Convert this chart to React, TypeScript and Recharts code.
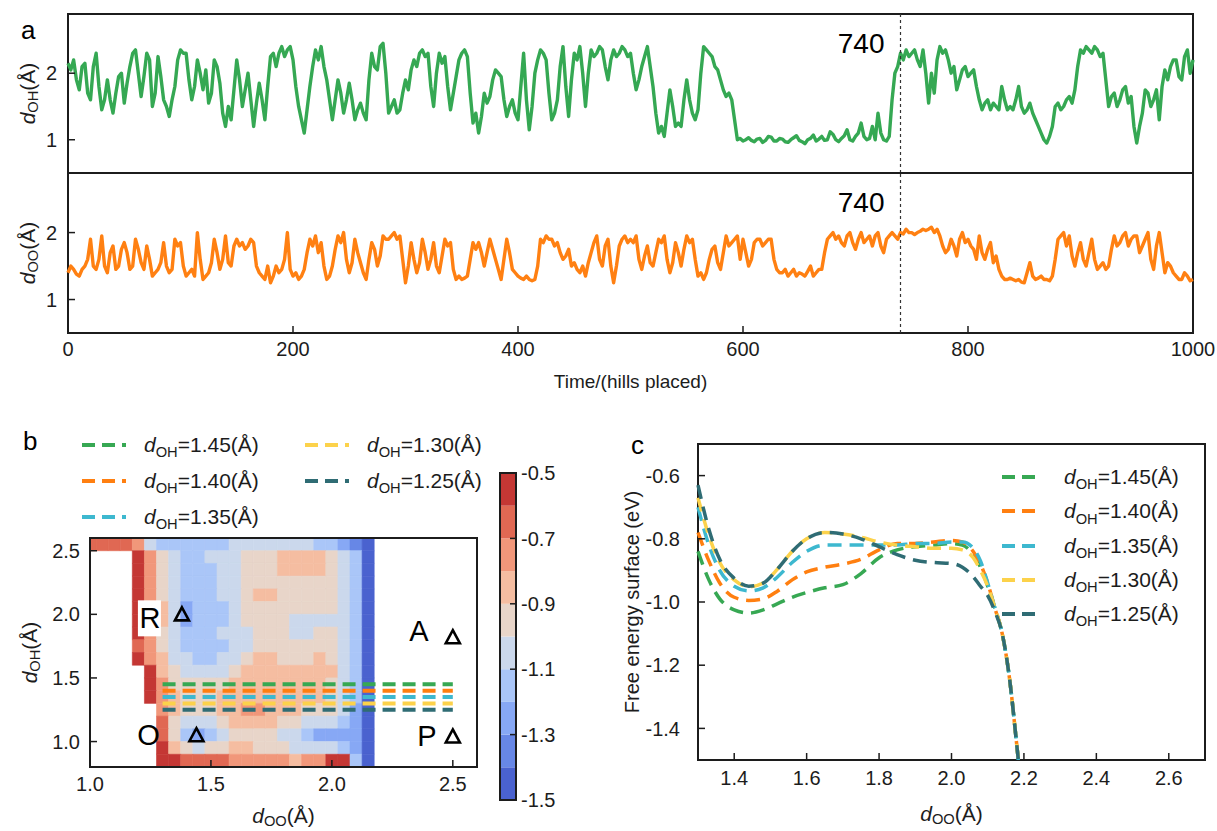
import React from "react";
import {
  ComposedChart,
  LineChart,
  Line,
  XAxis,
  YAxis,
  ReferenceArea,
  ReferenceLine,
  Scatter,
  Legend,
} from "recharts";

const FONT = "'Liberation Sans', Arial, Helvetica, sans-serif";
const INK = "#1c1c1c";

// ---------- panel a: d_OH / d_OO along the run (one value every 2.5 hills) ----------
const hillStep = 2.5;
const timeTicks = [0, 200, 400, 600, 800, 1000];
const eventHill = 740;

const dOHTrace = [
  2.15, 2.05, 2.2, 1.9, 1.75, 2.1, 2.15, 1.7, 1.6, 2.1, 2.3, 1.8, 1.45, 1.6, 1.9, 1.6, 1.4, 1.7, 1.95, 2.0,
  1.55, 1.85, 2.1, 2.3, 2.35, 2.0, 1.65, 1.95, 2.3, 2.2, 1.5, 1.7, 2.25, 1.95, 1.6, 1.5, 1.35, 1.6, 1.8, 2.2,
  2.35, 2.3, 2.3, 1.9, 1.6, 1.8, 2.2, 2.0, 1.75, 2.05, 1.55, 1.7, 2.2, 2.1, 1.85, 1.4, 1.2, 1.5, 1.3, 1.75,
  2.2, 1.9, 1.5, 1.75, 2.0, 1.6, 1.2, 1.55, 1.85, 1.6, 1.3, 1.8, 2.25, 2.3, 2.1, 2.3, 2.4, 2.25, 2.35, 2.4,
  2.2, 1.8, 1.5, 1.3, 1.1, 1.45, 1.8, 2.1, 2.35, 2.2, 2.4, 2.1, 1.9, 1.6, 1.3, 1.6, 1.9, 1.7, 1.4, 1.6,
  1.85, 1.6, 1.3, 1.45, 1.55, 1.4, 1.3, 1.9, 2.3, 2.1, 2.05, 2.4, 2.45, 2.0, 1.4, 1.5, 1.6, 1.4, 1.45, 1.7,
  1.9, 1.75, 2.05, 2.2, 2.1, 2.3, 2.35, 2.25, 2.3, 1.8, 1.5, 2.0, 2.3, 2.15, 2.25, 1.8, 1.45, 1.7, 1.95, 2.2,
  2.3, 2.35, 2.25, 1.7, 1.25, 1.4, 1.1, 1.35, 1.7, 1.55, 1.65, 1.9, 2.05, 2.0, 1.95, 1.6, 1.35, 1.5, 1.6, 1.4,
  1.3, 1.8, 2.3, 1.6, 1.15, 1.5, 2.0, 2.2, 2.35, 2.3, 2.2, 1.7, 1.3, 1.4, 1.6, 2.1, 2.4, 1.8, 1.35, 1.9,
  2.3, 2.2, 2.4, 2.0, 1.5, 2.0, 2.35, 2.25, 2.3, 2.4, 2.35, 2.1, 1.9, 2.2, 2.35, 2.25, 2.3, 2.4, 2.35, 2.25,
  2.3, 2.0, 1.75, 1.9, 2.1, 2.25, 2.4, 2.1, 1.8, 1.4, 1.1, 1.2, 1.05, 1.4, 1.75, 1.5, 1.2, 1.25, 1.2, 1.6,
  1.9, 1.6, 1.4, 1.3, 1.45, 2.0, 2.4, 2.35, 2.3, 2.25, 2.1, 2.05, 1.9, 1.75, 1.65, 1.7, 1.6, 1.3, 1.0, 1.02,
  0.98, 1.0, 1.03, 0.99, 0.97, 1.01, 1.02, 0.96, 0.99, 1.05, 1.04, 0.98, 0.98, 1.02, 1.01, 0.97, 0.96, 1.0, 1.03, 1.06,
  0.99, 0.97, 0.94, 1.0, 1.02, 1.07, 0.98, 1.01, 1.05, 0.99, 1.0, 1.12, 1.08, 1.0, 0.97, 1.02, 1.06, 1.15, 1.0, 0.98,
  1.05, 1.1, 1.25, 1.05, 1.0, 1.02, 1.2, 1.0, 1.4, 1.1, 1.0, 0.98, 1.05, 1.6, 2.0, 2.1, 2.3, 2.2, 2.35, 2.25,
  2.3, 2.35, 2.2, 2.1, 2.35, 2.0, 1.55, 2.0, 1.7, 2.2, 2.4, 2.3, 2.35, 2.2, 2.0, 2.1, 1.75, 1.9, 2.05, 2.1,
  1.95, 2.0, 2.05, 1.8, 1.6, 1.45, 1.55, 1.6, 1.45, 1.55, 1.5, 1.45, 1.8, 1.6, 1.45, 1.5, 1.45, 1.6, 1.8, 1.5,
  1.4, 1.45, 1.55, 1.4, 1.3, 1.2, 1.1, 1.0, 0.95, 1.05, 1.2, 1.5, 1.55, 1.45, 1.5, 1.6, 1.65, 1.55, 1.75, 2.1,
  2.35, 2.3, 2.4, 2.35, 2.3, 2.4, 2.35, 2.25, 2.3, 1.9, 1.5, 1.65, 1.7, 1.5, 1.6, 1.75, 1.8, 1.55, 1.65, 1.2,
  0.95, 1.2, 1.4, 1.75, 1.7, 1.5, 1.6, 1.75, 1.3, 1.8, 2.05, 1.9, 2.1, 2.2, 2.2, 1.95, 1.9, 2.25, 2.35, 2.0,
  2.2,
];

const dOOTrace = [
  1.4, 1.5, 1.45, 1.38, 1.35, 1.45, 1.5, 1.6, 1.9, 1.5, 1.45, 1.6, 1.95, 1.5, 1.4, 1.7, 1.8, 1.45, 1.5, 1.75,
  1.85, 1.7, 1.45, 1.5, 1.9, 1.75, 1.55, 1.45, 1.8, 1.6, 1.35, 1.4, 1.45, 1.55, 1.85, 1.5, 1.4, 1.45, 1.9, 1.8,
  1.85, 1.5, 1.35, 1.4, 1.45, 1.35, 2.0, 1.6, 1.3, 1.35, 1.4, 1.55, 1.9, 1.7, 1.45, 1.6, 1.95, 1.55, 1.5, 1.8,
  1.9, 1.8, 1.85, 1.75, 1.8, 1.9, 1.85, 1.5, 1.4, 1.35, 1.3, 1.5, 1.25, 1.35, 1.5, 1.4, 1.45, 1.6, 2.0, 1.45,
  1.35, 1.4, 1.3, 1.35, 1.45, 1.7, 1.9, 1.8, 1.95, 1.7, 1.85, 1.5, 1.3, 1.35, 1.5, 1.75, 1.95, 1.85, 2.0, 1.6,
  1.4, 1.55, 1.9, 1.7, 1.55, 1.4, 1.3, 1.6, 1.85, 1.75, 1.5, 1.65, 1.95, 1.9, 1.9, 1.95, 2.0, 1.9, 1.95, 1.6,
  1.25, 1.5, 1.85, 1.6, 1.4, 1.55, 1.9, 1.7, 1.45, 1.6, 1.85, 1.5, 1.4, 1.65, 1.9, 1.8, 1.85, 1.45, 1.3, 1.35,
  1.3, 1.32, 1.35, 1.6, 1.85, 1.75, 1.85, 1.7, 1.5, 1.7, 1.9, 1.75, 1.6, 1.45, 1.3, 1.6, 1.9, 1.7, 1.45, 1.4,
  1.35, 1.32, 1.3, 1.35, 1.3, 1.28, 1.3, 1.5, 1.9, 1.85, 1.95, 1.9, 1.9, 1.8, 1.85, 1.7, 1.6, 1.65, 1.75, 1.5,
  1.55, 1.45, 1.4, 1.5, 1.35, 1.55, 1.7, 1.85, 1.95, 1.6, 1.5, 1.8, 1.9, 1.5, 1.25, 1.5, 1.8, 1.9, 1.95, 1.85,
  1.9, 1.85, 1.95, 1.6, 1.45, 1.65, 1.8, 1.55, 1.5, 1.7, 1.9, 1.85, 1.95, 1.6, 1.4, 1.55, 1.85, 1.7, 1.5, 1.75,
  1.95, 1.85, 1.9, 1.6, 1.35, 1.4, 1.3, 1.4, 1.6, 1.75, 1.8, 1.55, 1.45, 1.7, 1.95, 1.8, 1.85, 1.9, 1.95, 1.6,
  1.9, 1.7, 1.5, 1.6, 1.85, 1.9, 1.9, 1.8, 1.85, 1.9, 1.9, 1.6, 1.45, 1.4, 1.4, 1.45, 1.35, 1.4, 1.45, 1.35,
  1.4, 1.38, 1.35, 1.42, 1.5, 1.35, 1.4, 1.45, 1.45, 1.7, 1.9, 1.95, 2.0, 1.9, 1.95, 1.85, 1.8, 1.95, 2.0, 1.85,
  1.75, 1.9, 2.0, 1.85, 1.9, 1.95, 1.8, 1.95, 2.0, 1.8, 1.7, 1.9, 1.95, 2.0, 1.95, 1.9, 2.0, 1.98, 2.05, 2.0,
  2.0, 1.97, 2.0, 2.02, 2.05, 2.03, 2.05, 2.08, 2.0, 2.05, 1.95, 1.8, 1.7, 1.75, 1.9, 1.8, 1.65, 1.9, 2.0, 1.85,
  1.9, 1.8, 1.75, 1.6, 1.95, 1.7, 1.6, 1.75, 1.85, 1.55, 1.65, 1.45, 1.35, 1.3, 1.3, 1.32, 1.3, 1.28, 1.3, 1.26,
  1.25, 1.4, 1.55, 1.35, 1.3, 1.32, 1.35, 1.3, 1.3, 1.28, 1.35, 1.6, 1.9, 1.95, 2.0, 1.8, 1.95, 1.65, 1.5, 1.7,
  1.85, 1.6, 1.5, 1.7, 1.9, 1.6, 1.45, 1.5, 1.55, 1.45, 1.5, 1.75, 1.95, 1.8, 1.85, 1.95, 2.0, 1.8, 1.9, 1.95,
  1.95, 1.7, 1.8, 1.9, 2.0, 1.6, 1.45, 1.8, 2.0, 1.7, 1.4, 1.55, 1.5, 1.4, 1.35, 1.3, 1.3, 1.4, 1.35, 1.28,
  1.3,
];

const trajectory = dOHTrace.map((oh, i) => ({ hill: i * hillStep, oh, oo: dOOTrace[i] }));

// ---------- panel b: free energy surface (eV), coarse grid ----------
const fesCols = [1.0, 1.05, 1.1, 1.15, 1.2, 1.25, 1.3, 1.35, 1.4, 1.45, 1.5, 1.55, 1.6, 1.65, 1.7, 1.75, 1.8, 1.85, 1.9, 1.95, 2.0, 2.05, 2.1, 2.15, 2.2];
const fesRowsY = [2.55, 2.45, 2.35, 2.25, 2.15, 2.05, 1.95, 1.85, 1.75, 1.65, 1.55, 1.45, 1.35, 1.25, 1.15, 1.05, 0.95, 0.85];
const N = null;
const fesGrid: (number | null)[][] = [
  [-0.62, -0.62, -0.62, -0.65, -0.78, -1.02, -1.12, -1.15, -1.16, -1.16, -1.15, -1.12, -1.1, -1.1, -1.1, -1.1, -1.1, -1.1, -1.1, -1.12, -1.15, -1.22, -1.35, -1.46, N],
  [N, N, N, N, -0.55, -0.8, -0.98, -1.05, -1.12, -1.12, -1.1, -1.05, -1.02, -0.98, -0.95, -0.92, -0.86, -0.85, -0.86, -0.9, -0.97, -1.05, -1.2, -1.42, N],
  [N, N, N, N, -0.6, -0.78, -0.97, -1.05, -1.13, -1.13, -1.12, -1.07, -1.03, -0.97, -0.95, -0.93, -0.87, -0.85, -0.86, -0.88, -0.96, -1.05, -1.2, -1.42, N],
  [N, N, N, N, -0.6, -0.75, -0.95, -1.05, -1.13, -1.13, -1.13, -1.1, -1.04, -0.97, -0.92, -0.93, -0.94, -0.95, -0.95, -0.96, -0.98, -1.05, -1.2, -1.42, N],
  [N, N, N, N, -0.58, -0.72, -0.92, -1.05, -1.12, -1.14, -1.12, -1.08, -1.02, -0.95, -0.87, -0.88, -0.95, -0.96, -0.96, -0.96, -0.98, -1.05, -1.2, -1.42, N],
  [N, N, N, N, -0.55, -0.7, -0.9, -1.06, -1.25, -1.16, -1.13, -1.12, -1.05, -0.98, -0.95, -0.96, -0.97, -0.97, -0.97, -0.98, -1.0, -1.05, -1.2, -1.42, N],
  [N, N, N, N, -0.55, -0.7, -0.9, -1.08, -1.24, -1.16, -1.13, -1.12, -1.08, -1.0, -0.97, -0.96, -1.0, -1.03, -1.04, -1.04, -1.03, -1.05, -1.2, -1.42, N],
  [N, N, N, N, -0.58, -0.72, -0.92, -1.06, -1.12, -1.13, -1.12, -1.05, -1.1, -1.02, -0.97, -0.96, -0.99, -1.02, -1.01, -0.98, -0.99, -1.05, -1.2, -1.42, N],
  [N, N, N, N, -0.62, -0.75, -0.93, -1.05, -1.12, -1.13, -1.13, -1.12, -1.08, -1.02, -0.97, -0.95, -0.96, -0.96, -0.95, -0.96, -0.98, -1.04, -1.2, -1.42, N],
  [N, N, N, N, -0.55, -0.72, -0.9, -1.04, -1.1, -1.12, -1.11, -1.08, -1.04, -0.98, -0.9, -0.88, -0.93, -0.95, -0.92, -0.9, -0.95, -1.03, -1.2, -1.42, N],
  [N, N, N, N, N, -0.6, -0.82, -1.0, -1.05, -1.08, -1.06, -1.02, -0.97, -0.9, -0.85, -0.84, -0.86, -0.88, -0.85, -0.85, -0.9, -1.02, -1.2, -1.42, N],
  [N, N, N, N, N, -0.58, -0.78, -0.95, -0.99, -1.0, -0.98, -0.95, -0.9, -0.86, -0.85, -0.85, -0.86, -0.86, -0.86, -0.87, -0.92, -1.03, -1.2, -1.42, N],
  [N, N, N, N, N, -0.56, -0.75, -0.9, -0.95, -0.96, -0.94, -0.9, -0.86, -0.84, -0.84, -0.85, -0.86, -0.86, -0.87, -0.9, -0.95, -1.05, -1.2, -1.42, N],
  [N, N, N, N, N, N, -0.72, -0.88, -0.93, -0.94, -0.92, -0.88, -0.84, -0.78, -0.78, -0.84, -0.87, -0.9, -0.93, -0.96, -1.0, -1.08, -1.22, -1.42, N],
  [N, N, N, N, N, N, -0.7, -0.93, -1.05, -1.07, -1.03, -0.95, -0.88, -0.85, -0.86, -0.88, -0.92, -0.98, -1.04, -1.08, -1.1, -1.15, -1.25, -1.42, N],
  [N, N, N, N, N, N, -0.68, -0.98, -1.18, -1.25, -1.15, -1.05, -0.98, -0.95, -0.96, -1.0, -1.05, -1.1, -1.17, -1.22, -1.23, -1.25, -1.3, -1.45, N],
  [N, N, N, N, N, N, -0.6, -0.85, -0.98, -1.02, -0.98, -0.93, -0.9, -0.9, -0.92, -0.95, -0.98, -1.02, -1.06, -1.08, -1.1, -1.15, -1.3, -1.45, N],
  [N, N, N, N, N, N, -0.52, -0.6, -0.68, -0.7, -0.7, -0.7, -0.72, -0.75, -0.76, -0.78, -0.8, -0.82, -0.78, -0.72, -0.6, -0.55, -1.2, -1.45, N],
];
const fesColStep = 0.05;
const fesRowStep = 0.1;
const fesTicks = [1.0, 1.5, 2.0, 2.5];

const levelEdges = [-1.5, -1.4, -1.3, -1.2, -1.1, -1.0, -0.9, -0.8, -0.7, -0.6, -0.5];
const levelColors = ["#4a62cf", "#6787e6", "#87a8f5", "#aac6f8", "#cbd8ec", "#e8d5c9", "#f5bda1", "#f1977a", "#e06853", "#c43734"];
const cbTicks = [-1.5, -1.3, -1.1, -0.9, -0.7, -0.5];

const cutLevels = [1.45, 1.4, 1.35, 1.3, 1.25];
const cutColors = ["#37a853", "#ff7f10", "#3db8cf", "#fcd24b", "#2f6c74"];
const cutRange = [1.3, 2.5];

const stateNames = ["R", "O", "A", "P"];
const stateX = [1.38, 1.44, 2.5, 2.5];
const stateY = [2.0, 1.05, 1.82, 1.04];

// ---------- panel c: 1D cuts of the surface ----------
const cutX = [1.3, 1.33, 1.36, 1.4, 1.44, 1.48, 1.52, 1.56, 1.6, 1.65, 1.7, 1.75, 1.8, 1.85, 1.9, 1.95, 2.0, 2.03, 2.06, 2.08, 2.1, 2.12, 2.14, 2.16, 2.18, 2.19];
const cut145 = [-0.84, -0.93, -0.99, -1.025, -1.035, -1.025, -1.005, -0.985, -0.97, -0.955, -0.945, -0.91, -0.86, -0.835, -0.825, -0.82, -0.815, -0.82, -0.85, -0.89, -0.95, -1.02, -1.1, -1.24, -1.45, -1.56];
const cut140 = [-0.78, -0.87, -0.94, -0.985, -0.995, -0.99, -0.965, -0.93, -0.905, -0.89, -0.88, -0.865, -0.835, -0.815, -0.815, -0.81, -0.805, -0.81, -0.84, -0.88, -0.94, -1.02, -1.1, -1.24, -1.45, -1.56];
const cut135 = [-0.7, -0.82, -0.9, -0.95, -0.965, -0.955, -0.92, -0.875, -0.84, -0.82, -0.82, -0.82, -0.82, -0.82, -0.815, -0.815, -0.81, -0.81, -0.83, -0.87, -0.94, -1.02, -1.1, -1.24, -1.45, -1.56];
const cut130 = [-0.67, -0.79, -0.875, -0.93, -0.952, -0.94, -0.895, -0.84, -0.8, -0.78, -0.785, -0.795, -0.81, -0.82, -0.825, -0.83, -0.83, -0.835, -0.86, -0.9, -0.95, -1.02, -1.1, -1.24, -1.45, -1.56];
const cut125 = [-0.63, -0.77, -0.865, -0.925, -0.95, -0.94, -0.895, -0.84, -0.8, -0.78, -0.785, -0.8, -0.825, -0.85, -0.868, -0.875, -0.878, -0.89, -0.92, -0.95, -0.98, -1.03, -1.1, -1.24, -1.45, -1.56];
const cutKeys = ["c145", "c140", "c135", "c130", "c125"];
const cutXTicks = [1.4, 1.6, 1.8, 2.0, 2.2, 2.4, 2.6];
const cutYTicks = [-1.4, -1.2, -1.0, -0.8, -0.6];

const cutTable = cutX.map((x, i) => ({
  x,
  c145: cut145[i],
  c140: cut140[i],
  c135: cut135[i],
  c130: cut130[i],
  c125: cut125[i],
}));

const fesCells: { x: number; y: number; v: number }[] = [];
fesRowsY.forEach((y, r) => {
  fesCols.forEach((x, c) => {
    const v = fesGrid[r][c];
    if (v !== null) fesCells.push({ x, y, v });
  });
});

const colorFor = (v: number) => {
  for (let i = 0; i < levelColors.length; i++) {
    if (v < levelEdges[i + 1]) return levelColors[i];
  }
  return levelColors[levelColors.length - 1];
};

const states = stateNames.map((name, i) => ({ name, x: stateX[i], y: stateY[i] }));
const bands = levelColors.map((color, i) => ({ lo: levelEdges[i], hi: levelEdges[i + 1], color, mid: 0.5, y: (levelEdges[i] + levelEdges[i + 1]) / 2 }));

const fmt1 = (v: number) => v.toFixed(1);
const tickFont = { fontSize: 20, fill: INK, fontFamily: FONT };
const tickLineStyle = { stroke: INK, strokeWidth: 1.5 };
const byLevelDesc = (a: any, b: any) => parseFloat(b.value) - parseFloat(a.value);

// label with italic d and subscript
function SubTitle({ x, y, sub, vertical, size = 21 }: any) {
  return (
    <text
      x={x}
      y={y}
      textAnchor="middle"
      dominantBaseline="central"
      fontFamily={FONT}
      fontSize={size}
      fill={INK}
      transform={vertical ? `rotate(-90, ${x}, ${y})` : undefined}
    >
      <tspan fontStyle="italic">d</tspan>
      <tspan fontSize={size * 0.7} dy={size * 0.3}>{sub}</tspan>
      <tspan dy={-size * 0.3}>(Å)</tspan>
    </text>
  );
}

function LegendRow({ color, level, lineW, gap }: any) {
  return (
    <div style={{ display: "flex", alignItems: "center", height: "100%" }}>
      <svg width={lineW} height={8} style={{ flexShrink: 0 }}>
        <line x1={0} x2={lineW} y1={4} y2={4} stroke={color} strokeWidth={4} strokeDasharray="13 7" />
      </svg>
      <span style={{ marginLeft: gap, fontFamily: FONT, fontSize: 21, color: INK, whiteSpace: "nowrap" }}>
        <i>d</i>
        <span style={{ fontSize: "0.7em", position: "relative", top: "0.35em" }}>OH</span>=
        {level}(Å)
      </span>
    </div>
  );
}

const renderState = (p: any) => {
  const { cx, cy, payload } = p;
  const dx: Record<string, number> = { R: -32, O: -48, A: -34, P: -26 };
  const dy: Record<string, number> = { R: 4, O: 0, A: -6, P: 0 };
  const lx = cx + dx[payload.name];
  const ly = cy + dy[payload.name];
  return (
    <g>
      {payload.name === "R" && <rect x={lx - 12} y={ly - 18} width={23} height={36} fill="#fff" />}
      <text x={lx} y={ly} textAnchor="middle" dominantBaseline="central" fontFamily={FONT} fontSize={29} fill="#000">
        {payload.name}
      </text>
      <path
        d={`M${cx},${cy - 7} L${cx + 7},${cy + 6} L${cx - 7},${cy + 6} Z`}
        fill="none"
        stroke="#000"
        strokeWidth={2.6}
        strokeLinejoin="miter"
      />
    </g>
  );
};

function TraceChart({ dataKey, color, sub, height, marginTop, bottomH, showTime }: any) {
  return (
    <LineChart width={1217} height={height} data={trajectory} margin={{ top: marginTop, right: 23, bottom: 0, left: 0 }}>
      <XAxis
        dataKey="hill"
        type="number"
        domain={[0, 1000]}
        ticks={timeTicks}
        height={bottomH}
        axisLine={false}
        tickSize={-7}
        tickMargin={16}
        tickLine={tickLineStyle}
        tick={showTime ? tickFont : false}
        label={
          showTime
            ? (p: any) => (
                <text
                  x={p.viewBox.x + p.viewBox.width / 2}
                  y={p.viewBox.y + 48}
                  textAnchor="middle"
                  dominantBaseline="central"
                  fontFamily={FONT}
                  fontSize={19}
                  fill={INK}
                >
                  Time/(hills placed)
                </text>
              )
            : undefined
        }
      />
      <XAxis xAxisId="top" orientation="top" dataKey="hill" type="number" domain={[0, 1000]} ticks={timeTicks} height={1} axisLine={false} tickSize={-7} tickLine={tickLineStyle} tick={false} />
      <YAxis
        type="number"
        domain={[0.5, 2.89]}
        ticks={[1, 2]}
        width={68}
        axisLine={false}
        tickSize={-7}
        tickMargin={18}
        tickLine={tickLineStyle}
        tick={tickFont}
        label={(p: any) => <SubTitle x={p.viewBox.x + 27} y={p.viewBox.y + p.viewBox.height / 2} sub={sub} vertical />}
      />
      <YAxis yAxisId="right" orientation="right" type="number" domain={[0.5, 2.89]} ticks={[1, 2]} width={1} axisLine={false} tickSize={-7} tickLine={tickLineStyle} tick={false} />
      <Line dataKey={dataKey} type="linear" stroke={color} strokeWidth={3.4} strokeLinejoin="round" dot={false} isAnimationActive={false} />
      <ReferenceLine
        x={eventHill}
        stroke="#333"
        strokeWidth={1.2}
        strokeDasharray="3 3"
        label={(p: any) => (
          <text x={p.viewBox.x - 16} y={p.viewBox.y + 39} textAnchor="end" fontFamily={FONT} fontSize={28} fill="#000">
            {eventHill}
          </text>
        )}
      />
      <ReferenceArea x1={0} x2={1000} y1={0.5} y2={2.89} fill="none" stroke={INK} strokeWidth={2} ifOverflow="visible" />
    </LineChart>
  );
}

export default function App() {
  const panelLetter = (t: string, left: number, top: number) => (
    <div style={{ position: "absolute", left, top, fontFamily: FONT, fontSize: 26, color: "#000", lineHeight: 1 }}>{t}</div>
  );

  return (
    <div style={{ position: "absolute", left: 0, top: 0, width: 1217, height: 831, background: "#fff" }}>
      {/* panel a */}
      <div style={{ position: "absolute", left: 0, top: 0 }}>
        <TraceChart dataKey="oh" color="#35a853" sub="OH" height={174} marginTop={13} bottomH={1} showTime={false} />
      </div>
      <div style={{ position: "absolute", left: 0, top: 172 }}>
        <TraceChart dataKey="oo" color="#ff8012" sub="OO" height={240} marginTop={0} bottomH={79} showTime />
      </div>
      {panelLetter("a", 21, 17)}

      {/* panel b */}
      <div style={{ position: "absolute", left: 0, top: 420 }}>
        <ComposedChart width={490} height={411} margin={{ top: 117, right: 12, bottom: 0, left: 0 }}>
          <XAxis
            dataKey="x"
            type="number"
            domain={[1.0, 2.6]}
            ticks={fesTicks}
            tickFormatter={fmt1}
            height={64}
            axisLine={false}
            tickSize={-7}
            tickMargin={17}
            tickLine={tickLineStyle}
            tick={tickFont}
            allowDataOverflow
            label={(p: any) => <SubTitle x={p.viewBox.x + p.viewBox.width / 2} y={p.viewBox.y + 48} sub="OO" />}
          />
          <XAxis xAxisId="top" orientation="top" type="number" domain={[1.0, 2.6]} ticks={fesTicks} height={1} axisLine={false} tickSize={-7} tickLine={tickLineStyle} tick={false} />
          <YAxis
            dataKey="y"
            type="number"
            domain={[0.8, 2.6]}
            ticks={fesTicks}
            tickFormatter={fmt1}
            width={90}
            axisLine={false}
            tickSize={-7}
            tickMargin={17}
            tickLine={tickLineStyle}
            tick={tickFont}
            allowDataOverflow
            label={(p: any) => <SubTitle x={p.viewBox.x + 29} y={p.viewBox.y + p.viewBox.height / 2} sub="OH" vertical />}
          />
          <YAxis yAxisId="right" orientation="right" type="number" domain={[0.8, 2.6]} ticks={fesTicks} width={1} axisLine={false} tickSize={-7} tickLine={tickLineStyle} tick={false} />
          {fesCells.map((c) => (
            <ReferenceArea
              key={`${c.x}-${c.y}`}
              x1={c.x - fesColStep / 2}
              x2={c.x + fesColStep / 2}
              y1={c.y - fesRowStep / 2}
              y2={c.y + fesRowStep / 2}
              fill={colorFor(c.v)}
              fillOpacity={1}
              stroke={colorFor(c.v)}
              strokeWidth={0.6}
              ifOverflow="hidden"
            />
          ))}
          {cutLevels.map((lv, i) => (
            <Line
              key={lv}
              name={lv.toFixed(2)}
              data={[
                { x: cutRange[0], y: lv },
                { x: cutRange[1], y: lv },
              ]}
              dataKey="y"
              stroke={cutColors[i]}
              strokeWidth={4}
              strokeDasharray="13 7"
              dot={false}
              isAnimationActive={false}
            />
          ))}
          <Scatter data={states} dataKey="y" shape={renderState} isAnimationActive={false} legendType="none" />
          <Legend
            layout="vertical"
            align="center"
            verticalAlign="middle"
            wrapperStyle={{ left: 82, top: 7, width: 420 }}
            content={(props: any) => (
              <div style={{ display: "grid", gridTemplateRows: "repeat(3, 36px)", gridTemplateColumns: "223px 200px", gridAutoFlow: "column" }}>
                {(props.payload || [])
                  .filter((e: any) => e.type !== "none")
                  .slice()
                  .sort(byLevelDesc)
                  .map((e: any) => (
                    <LegendRow key={e.value} color={e.color} level={e.value} lineW={44} gap={18} />
                  ))}
              </div>
            )}
          />
          <ReferenceArea x1={1.0} x2={2.6} y1={0.8} y2={2.6} fill="none" stroke={INK} strokeWidth={2} ifOverflow="visible" />
        </ComposedChart>
      </div>
      {panelLetter("b", 23, 428)}

      {/* colour bar */}
      <div style={{ position: "absolute", left: 480, top: 455 }}>
        <ComposedChart width={110} height={360} data={bands} margin={{ top: 18, right: 0, bottom: 15, left: 20 }}>
          <XAxis dataKey="mid" type="number" domain={[0, 1]} hide />
          <YAxis
            dataKey="y"
            orientation="right"
            type="number"
            domain={[-1.5, -0.5]}
            ticks={cbTicks}
            tickFormatter={fmt1}
            width={74}
            axisLine={false}
            tickSize={-6}
            tickMargin={11}
            tickLine={tickLineStyle}
            tick={tickFont}
          />
          {bands.map((b) => (
            <ReferenceArea key={b.lo} x1={0} x2={1} y1={b.lo} y2={b.hi} fill={b.color} fillOpacity={1} stroke="none" ifOverflow="visible" />
          ))}
          <Scatter dataKey="y" isAnimationActive={false} shape={() => <g />} legendType="none" />
          <ReferenceArea x1={0} x2={1} y1={-1.5} y2={-0.5} fill="none" stroke={INK} strokeWidth={2} ifOverflow="visible" />
        </ComposedChart>
      </div>

      {/* panel c */}
      <div style={{ position: "absolute", left: 600, top: 420 }}>
        <LineChart width={617} height={411} data={cutTable} margin={{ top: 23, right: 11, bottom: 0, left: 0 }}>
          <XAxis
            dataKey="x"
            type="number"
            domain={[1.3, 2.7]}
            ticks={cutXTicks}
            tickFormatter={fmt1}
            height={71}
            axisLine={false}
            tickSize={-7}
            tickMargin={18}
            tickLine={tickLineStyle}
            tick={tickFont}
            label={(p: any) => <SubTitle x={p.viewBox.x + p.viewBox.width / 2} y={p.viewBox.y + 53} sub="OO" />}
          />
          <XAxis xAxisId="top" orientation="top" dataKey="x" type="number" domain={[1.3, 2.7]} ticks={cutXTicks} height={1} axisLine={false} tickSize={-7} tickLine={tickLineStyle} tick={false} />
          <YAxis
            type="number"
            domain={[-1.5, -0.5]}
            ticks={cutYTicks}
            tickFormatter={fmt1}
            width={98}
            axisLine={false}
            tickSize={-7}
            tickMargin={25}
            tickLine={tickLineStyle}
            tick={tickFont}
            allowDataOverflow
            label={(p: any) => (
              <text
                x={p.viewBox.x + 32}
                y={p.viewBox.y + p.viewBox.height / 2}
                textAnchor="middle"
                dominantBaseline="central"
                fontFamily={FONT}
                fontSize={20}
                fill={INK}
                transform={`rotate(-90, ${p.viewBox.x + 32}, ${p.viewBox.y + p.viewBox.height / 2})`}
              >
                Free energy surface (eV)
              </text>
            )}
          />
          <YAxis yAxisId="right" orientation="right" type="number" domain={[-1.5, -0.5]} ticks={cutYTicks} width={1} axisLine={false} tickSize={-7} tickLine={tickLineStyle} tick={false} allowDataOverflow />
          {cutKeys.map((k, i) => (
            <Line
              key={k}
              dataKey={k}
              name={cutLevels[i].toFixed(2)}
              type="monotone"
              stroke={cutColors[i]}
              strokeWidth={3.5}
              strokeDasharray="14 8"
              dot={false}
              isAnimationActive={false}
            />
          ))}
          <Legend
            layout="vertical"
            align="center"
            verticalAlign="middle"
            wrapperStyle={{ left: 402, top: 40, width: 210 }}
            content={(props: any) => (
              <div style={{ display: "grid", gridTemplateRows: "repeat(5, 34.3px)" }}>
                {(props.payload || [])
                  .slice()
                  .sort(byLevelDesc)
                  .map((e: any) => (
                    <LegendRow key={e.value} color={e.color} level={e.value} lineW={38} gap={24} />
                  ))}
              </div>
            )}
          />
          <ReferenceArea x1={1.3} x2={2.7} y1={-1.5} y2={-0.5} fill="none" stroke={INK} strokeWidth={2} ifOverflow="visible" />
        </LineChart>
      </div>
      {panelLetter("c", 631, 432)}
    </div>
  );
}
